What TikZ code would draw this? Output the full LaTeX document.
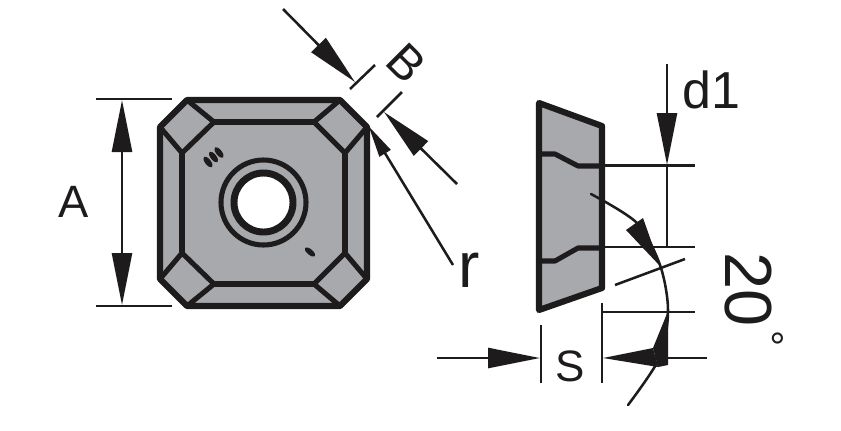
\documentclass[tikz,border=0pt]{standalone}
\usepackage{fontspec}
\setmainfont{Liberation Sans}
\usetikzlibrary{arrows.meta}
\definecolor{insertgray}{RGB}{167, 169, 172}
\definecolor{inkblack}{RGB}{30, 27, 28}
\tikzset{
    outline/.style={draw=inkblack, line width=4.6pt, line join=round},
    inner edge/.style={draw=inkblack, line width=3.8pt, line join=round},
    dimline/.style={draw=inkblack, line width=1.9pt},
    dimtip/.style={-{Triangle[length=39pt, width=15pt]}, inkblack},
    dimlabel/.style={text=inkblack, inner sep=0pt},
}
\begin{document}
\begin{tikzpicture}[x=0.75pt, y=-0.75pt]
    \useasboundingbox (0,0) rectangle (841,430);
    % Top view
    \filldraw[outline, fill=insertgray] (187,100) -- (340,100) -- (367,127) -- (367,279)
        -- (340,306) -- (187,306) -- (160,279) -- (160,127) -- cycle;
    \draw[inner edge] (214,122) -- (314,122);
    \draw[inner edge] (214,284) -- (314,284);
    \draw[inner edge] (182,154) -- (182,252);
    \draw[inner edge] (345,154) -- (345,252);
    % Corner pads
    \draw[inner edge] (187,100) -- (214,122) -- (182,153) -- (160,127);
    \draw[inner edge] (340,100) -- (314,122) -- (345,153) -- (367,127);
    \draw[inner edge] (160,279) -- (182,253) -- (214,284) -- (187,306);
    \draw[inner edge] (367,279) -- (345,253) -- (314,284) -- (340,306);
    % Hole
    \draw[inkblack, line width=3.8pt] (263.5,202.5) circle (42.5);
    \filldraw[draw=inkblack, fill=white, line width=5.2pt] (263.5,202.5) circle (29.5);
    % Marks
    \foreach \mx/\my in {208/162, 213.5/157, 219/152.5}
        \fill[inkblack, rotate around={-52:(\mx,\my)}] (\mx,\my) ellipse (6.5 and 2.9);
    \fill[inkblack, rotate around={-40:(310,252)}] (310,252) ellipse (6.5 and 2.8);
    % Dimension A
    \draw[dimline] (96,99) -- (172,99);
    \draw[dimline] (96,306) -- (172,306);
    \draw[dimline, dimtip] (122,203) -- (122,100);
    \draw[dimline, dimtip] (122,203) -- (122,305);
    \node[dimlabel, font=\fontsize{34}{34}\selectfont] (lblA) at (74,202) {A};
    % Dimension B
    \draw[dimline] (350,89) -- (375,65);
    \draw[dimline] (377,117) -- (402,92);
    \draw[dimline, dimtip] (283,9) -- (355,82);
    \draw[dimline, dimtip] (457,184) -- (384,112);
    \node[dimlabel, rotate=-45, font=\fontsize{36}{36}\selectfont] (lblB) at (406,63) {B};
    % Radius r
    \draw[dimline, {Triangle[length=24pt, width=9.5pt]}-, inkblack] (368.5,126) -- (453,265);
    \node[dimlabel, font=\fontsize{48}{48}\selectfont] (lblr) at (469,270) {r};
    % Side view
    \filldraw[outline, fill=insertgray] (539,103) -- (602,126) -- (602,288) -- (539,310) -- cycle;
    \draw[inner edge] (540,154) -- (555,154) -- (578,166) -- (602,166);
    \draw[inner edge] (540,261) -- (555,261) -- (578,248) -- (602,248);
    % Dimension d1
    \draw[dimline] (604,165.5) -- (695,165.5);
    \draw[dimline] (604,247) -- (695,247);
    \draw[dimline] (667,165) -- (667,247);
    \draw[dimline, dimtip] (667,64) -- (667,165);
    \node[dimlabel, font=\fontsize{39}{39}\selectfont] (lbld) at (711,90) {d1};
    % Dimension 20 deg
    \draw[dimline] (615,285) -- (685,259);
    \draw[dimline, line cap=round] plot[smooth] coordinates {(591,194) (637,223) (660,265) (668,310) (660,357) (628,405)};
    \fill[inkblack] (660,266) -- (626,230) -- (643,218) -- cycle;
    \fill[inkblack] (668,311) -- (668,365) -- (658,367) -- (653,348) -- cycle;
    \node[dimlabel, rotate=-90, anchor=base west, font=\fontsize{50}{50}\selectfont] (lblangle) at (725,252)
        {20\kern3pt\raisebox{23pt}{\fontsize{30}{30}\selectfont °}};
    % Dimension S
    \draw[dimline] (541,325) -- (541,383);
    \draw[dimline] (602,303) -- (602,383);
    \draw[dimline] (603,312) -- (695,312);
    \draw[dimline, dimtip] (437,358) -- (540,358);
    \draw[dimline] (655,358) -- (707,358);
    \fill[inkblack] (603,358) -- (653,348) -- (658,367) -- cycle;
    \node[dimlabel, font=\fontsize{33}{33}\selectfont] (lblS) at (570,366) {S};
\end{tikzpicture}
\end{document}
